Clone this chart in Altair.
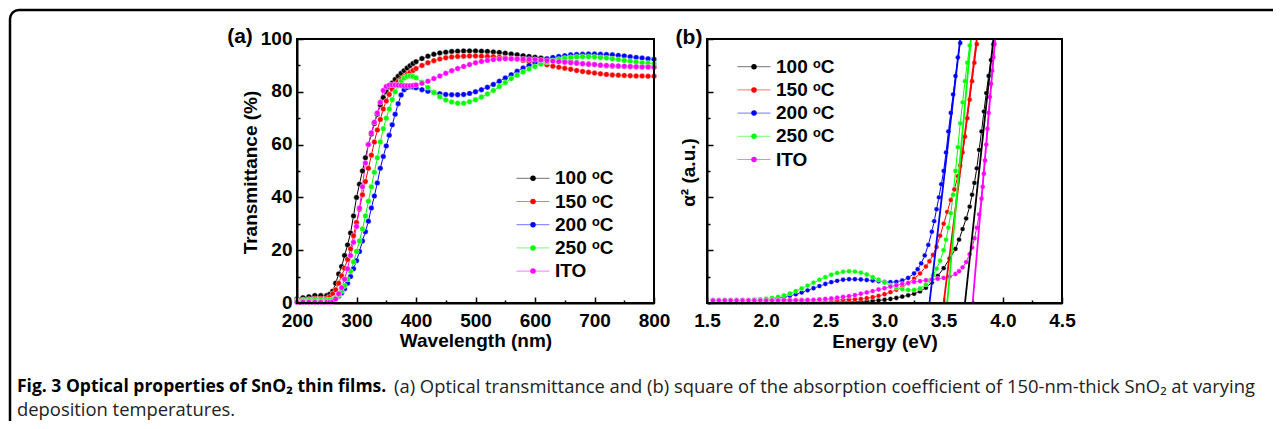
import altair as alt
import pandas as pd

SERIES = ["100 ᵒC", "150 ᵒC", "200 ᵒC", "250 ᵒC", "ITO"]
COLORS = ["#000000", "#ff0000", "#0000ff", "#00ff00", "#ff00ff"]

# ---------------- panel (a): transmittance ----------------
WL = [200, 210, 220, 230, 240, 250,
      255, 260, 265, 270, 275, 280, 285, 290, 295, 300,
      305, 310, 315, 320, 325, 330, 335, 340, 345, 350,
      355, 360, 365, 370, 375, 380, 385, 390, 395, 400,
      410, 420, 430, 440, 450, 460, 470, 480, 490, 500,
      510, 520, 530, 540, 550, 560, 570, 580, 590, 600,
      610, 620, 630, 640, 650, 660, 670, 680, 690, 700,
      710, 720, 730, 740, 750, 760, 770, 780, 790, 800]

T_100 = [1.5, 2.0, 2.4, 2.8, 2.8, 2.8,
         3.3, 4.5, 7.5, 11.0, 13.8, 18.0, 22.0, 26.5, 33.0, 40.0,
         45.0, 50.0, 55.0, 60.0, 64.0, 68.0, 71.5, 75.0, 77.8, 80.0,
         81.8, 83.3, 84.7, 85.9, 87.0, 88.0, 89.0, 89.9, 90.7, 91.4,
         92.6, 93.5, 94.2, 94.7, 95.0, 95.3, 95.4, 95.5, 95.5, 95.5,
         95.4, 95.3, 95.1, 94.9, 94.6, 94.3, 94.0, 93.7, 93.4, 93.1,
         92.8, 92.5, 92.2, 91.9, 91.6, 91.3, 91.0, 90.7, 90.5, 90.3,
         90.1, 89.9, 89.8, 89.7, 89.6, 89.5, 89.5, 89.4, 89.4, 89.4]

T_150 = [1.0, 1.2, 1.4, 1.6, 1.6, 1.7,
         2.2, 3.5, 5.0, 7.5, 10.3, 13.2, 16.5, 20.5, 25.5, 30.5,
         35.5, 41.0, 46.0, 51.0, 56.0, 61.0, 65.5, 69.5, 73.5, 76.5,
         79.0, 81.0, 82.6, 83.8, 84.8, 85.7, 86.6, 87.4, 88.1, 88.8,
         90.0, 91.0, 91.8, 92.4, 92.9, 93.2, 93.4, 93.5, 93.6, 93.6,
         93.5, 93.4, 93.3, 93.1, 92.9, 92.6, 92.3, 91.9, 91.5, 91.1,
         90.6, 90.2, 89.7, 89.3, 88.9, 88.5, 88.1, 87.7, 87.4, 87.1,
         86.8, 86.6, 86.4, 86.3, 86.2, 86.1, 86.0, 86.0, 85.9, 85.9]

T_200 = [0.8, 0.9, 1.0, 1.1, 1.1, 1.1,
         1.1, 1.3, 1.8, 2.6, 3.8, 5.4, 7.5, 10.0, 13.0, 16.0,
         19.5, 23.5, 27.0, 31.0, 36.0, 40.5, 45.5, 51.0, 55.5, 59.5,
         63.5, 67.5, 71.5, 75.5, 78.8, 80.8, 81.6, 81.9, 81.8, 81.5,
         80.8, 80.2, 79.7, 79.3, 79.0, 78.9, 78.9, 79.0, 79.4, 80.0,
         80.8, 81.7, 82.8, 84.0, 85.2, 86.5, 87.8, 89.0, 90.0, 91.0,
         91.8, 92.5, 93.0, 93.4, 93.7, 94.0, 94.1, 94.2, 94.3, 94.3,
         94.2, 94.1, 94.0, 93.8, 93.6, 93.3, 93.0, 92.8, 92.5, 92.3]

T_250 = [0.8, 0.9, 1.0, 1.0, 1.0, 1.0,
         1.1, 1.3, 2.0, 3.0, 4.5, 6.5, 9.0, 12.0, 15.5, 19.5,
         23.5, 28.0, 33.0, 38.5, 44.0, 49.5, 55.0, 61.0, 66.0, 70.0,
         73.5, 77.0, 80.0, 82.3, 84.0, 85.2, 85.8, 86.0, 85.8, 85.3,
         83.6, 81.6, 79.7, 78.1, 76.9, 76.1, 75.7, 75.7, 76.2, 77.0,
         78.0, 79.2, 80.5, 82.0, 83.5, 85.0, 86.3, 87.5, 88.6, 89.6,
         90.5, 91.2, 91.8, 92.3, 92.7, 93.0, 93.2, 93.3, 93.3, 93.2,
         93.0, 92.8, 92.5, 92.2, 91.9, 91.6, 91.3, 91.0, 90.8, 90.6]

T_ITO = [0.3, 0.3, 0.3, 0.3, 0.3, 0.3,
         0.3, 0.5, 1.5, 3.5, 5.8, 9.0, 13.0, 18.0, 23.0, 29.0,
         36.0, 44.0, 53.0, 60.0, 64.5, 68.5, 72.0, 76.0, 80.5, 82.0,
         82.5, 82.6, 82.6, 82.5, 82.4, 82.3, 82.3, 82.3, 82.4, 82.6,
         83.2, 84.0, 85.0, 86.0, 87.0, 88.0, 88.8, 89.6, 90.3, 91.0,
         91.5, 91.9, 92.2, 92.4, 92.5, 92.5, 92.5, 92.4, 92.3, 92.2,
         92.0, 91.8, 91.6, 91.4, 91.2, 91.0, 90.8, 90.6, 90.4, 90.3,
         90.1, 90.0, 89.9, 89.8, 89.7, 89.6, 89.5, 89.4, 89.4, 89.3]

# ---------------- panel (b): alpha^2 vs energy ----------------
E_LOW = [1.55, 1.60, 1.65, 1.70, 1.75, 1.80, 1.85, 1.90, 1.95, 2.00,
         2.05, 2.10, 2.15, 2.20, 2.25, 2.30, 2.35, 2.40, 2.45, 2.50,
         2.55, 2.60, 2.65, 2.70, 2.75, 2.80, 2.85, 2.90, 2.95, 3.00]

E_100 = [3.05, 3.10, 3.15, 3.20, 3.25, 3.30, 3.35, 3.40, 3.45, 3.50, 3.55, 3.60,
         3.63, 3.66, 3.69, 3.72, 3.74, 3.76, 3.78, 3.80, 3.82, 3.84, 3.86, 3.88, 3.90, 3.92]
A_100 = [0.03, 0.03, 0.03, 0.03, 0.03, 0.03, 0.03, 0.03, 0.03, 0.03,
         0.03, 0.03, 0.03, 0.03, 0.03, 0.03, 0.03, 0.03, 0.03, 0.03,
         0.03, 0.04, 0.04, 0.05, 0.05, 0.06, 0.07, 0.08, 0.10, 0.12,
         0.15, 0.19, 0.24, 0.29, 0.35, 0.44, 0.58, 0.78, 1.02, 1.32, 1.68, 2.05,
         2.40, 2.80, 3.20, 3.65, 4.10, 4.55, 5.10, 5.80, 6.50, 7.25, 7.95, 8.60, 9.20, 9.80]

E_150 = [3.05, 3.10, 3.15, 3.20, 3.25, 3.30, 3.35, 3.38, 3.41, 3.44, 3.47, 3.50,
         3.53, 3.56, 3.59, 3.62, 3.64, 3.66, 3.68, 3.70, 3.72, 3.74, 3.76, 3.78]
A_150 = [0.12, 0.12, 0.12, 0.12, 0.12, 0.12, 0.12, 0.12, 0.12, 0.12,
         0.12, 0.12, 0.12, 0.12, 0.12, 0.12, 0.12, 0.12, 0.12, 0.12,
         0.12, 0.12, 0.12, 0.13, 0.14, 0.15, 0.18, 0.22, 0.27, 0.33,
         0.41, 0.50, 0.61, 0.75, 0.92, 1.12, 1.38, 1.58, 1.82, 2.12, 2.55, 3.00,
         3.45, 3.90, 4.30, 4.80, 5.20, 5.70, 6.30, 7.00, 7.70, 8.40, 9.10, 9.80]

E_200 = [3.05, 3.10, 3.15, 3.20, 3.25, 3.28, 3.31, 3.34, 3.37, 3.40, 3.42,
         3.44, 3.46, 3.48, 3.50, 3.52, 3.54, 3.56, 3.58, 3.60, 3.62, 3.64]
A_200 = [0.10, 0.10, 0.10, 0.10, 0.10, 0.10, 0.10, 0.10, 0.11, 0.13,
         0.15, 0.18, 0.22, 0.27, 0.33, 0.40, 0.48, 0.56, 0.64, 0.72,
         0.79, 0.84, 0.88, 0.90, 0.90, 0.89, 0.87, 0.85, 0.82, 0.80,
         0.79, 0.80, 0.85, 0.95, 1.12, 1.28, 1.50, 1.80, 2.20, 2.70, 3.10,
         3.55, 4.00, 4.50, 5.00, 5.70, 6.50, 7.20, 7.90, 8.60, 9.30, 9.85]

E_250 = [3.05, 3.10, 3.15, 3.20, 3.25, 3.30, 3.35, 3.38, 3.41, 3.44, 3.47, 3.50,
         3.52, 3.54, 3.56, 3.58, 3.60, 3.62, 3.64, 3.66, 3.68, 3.70, 3.72]
A_250 = [0.12, 0.12, 0.12, 0.12, 0.12, 0.12, 0.12, 0.13, 0.14, 0.16,
         0.19, 0.23, 0.29, 0.36, 0.45, 0.55, 0.66, 0.77, 0.88, 0.98,
         1.07, 1.14, 1.18, 1.20, 1.19, 1.15, 1.08, 0.98, 0.88, 0.77,
         0.67, 0.58, 0.52, 0.49, 0.49, 0.55, 0.70, 0.85, 1.05, 1.30, 1.60, 2.00,
         2.40, 2.85, 3.40, 4.10, 5.00, 5.90, 6.80, 7.60, 8.40, 9.10, 9.75]

E_ITO = [3.05, 3.10, 3.15, 3.20, 3.25, 3.30, 3.35, 3.40, 3.45, 3.50, 3.55, 3.60,
         3.63, 3.66, 3.69, 3.72, 3.74, 3.76, 3.78, 3.80, 3.82,
         3.83, 3.84, 3.85, 3.86, 3.87, 3.88, 3.89, 3.90, 3.91, 3.92, 3.93]
A_ITO = [0.10, 0.10, 0.10, 0.10, 0.10, 0.10, 0.10, 0.10, 0.10, 0.10,
         0.10, 0.10, 0.10, 0.10, 0.10, 0.10, 0.11, 0.12, 0.13, 0.15,
         0.17, 0.20, 0.23, 0.26, 0.30, 0.35, 0.40, 0.45, 0.51, 0.56,
         0.62, 0.67, 0.72, 0.76, 0.80, 0.83, 0.86, 0.89, 0.92, 0.95, 1.00, 1.10,
         1.20, 1.35, 1.55, 1.85, 2.10, 2.45, 2.85, 3.35, 3.95,
         4.40, 4.90, 5.40, 6.00, 6.60, 7.20, 7.80, 8.30, 8.80, 9.30, 9.80]

# linear band-gap fits: energy at alpha^2 = 0 and at top of the frame
FIT_E0 = [3.68, 3.50, 3.38, 3.53, 3.745]
FIT_E1 = [3.92, 3.78, 3.64, 3.73, 3.935]
FIT_A0 = [0, 0, 0, 0, 0]
FIT_A1 = [10, 10, 10, 10, 10]

# ---------------- tables ----------------
rows_a = []
for name, ys in zip(SERIES, [T_100, T_150, T_200, T_250, T_ITO]):
    for w, t in zip(WL, ys):
        rows_a.append({"series": name, "wl": w, "T": t})
df_a = pd.DataFrame(rows_a)

rows_b = []
for name, eh, ys in zip(SERIES, [E_100, E_150, E_200, E_250, E_ITO],
                        [A_100, A_150, A_200, A_250, A_ITO]):
    for e, a in zip(E_LOW + eh, ys):
        rows_b.append({"series": name, "E": e, "A": a})
df_b = pd.DataFrame(rows_b)

df_fit = pd.DataFrame({"series": SERIES, "e0": FIT_E0, "e1": FIT_E1,
                       "a0": FIT_A0, "a1": FIT_A1})
df_leg = pd.DataFrame({"series": SERIES, "row": list(range(len(SERIES)))})

# ---------------- styling ----------------
FONT = "Liberation Sans"

AX = dict(domainColor="black", domainWidth=2, tickColor="black", tickWidth=1.5,
          labelFont=FONT, labelFontSize=19, labelFontWeight="bold", labelColor="black",
          titleFont=FONT, titleFontSize=19, titleFontWeight="bold", titleColor="black",
          grid=False, labelOverlap=False, labelFlush=False)

xA = alt.Scale(domain=[200, 800], range=[289, 646], nice=False, zero=False)
yA = alt.Scale(domain=[0, 100], range=[295, 31], nice=False, zero=False)
xB = alt.Scale(domain=[1.5, 4.5], range=[699, 1054], nice=False, zero=False)
yB = alt.Scale(domain=[0, 10], range=[295, 31], nice=False, zero=False)
cS = alt.Scale(domain=SERIES, range=COLORS)

axA_x = alt.Axis(orient="bottom", offset=-118, values=list(range(200, 801, 50)), format="d",
                 labelExpr="datum.value % 100 === 0 ? datum.label : ''",
                 tickSize=alt.ExprRef(expr="datum.value % 100 === 0 ? -6 : -3"),
                 labelPadding=14, title="Wavelength (nm)", titleX=467.5, titleY=37,
                 titleAlign="center", titleBaseline="middle", **AX)
axA_y = alt.Axis(orient="left", offset=-289, values=list(range(0, 101, 10)), format="d",
                 labelExpr="datum.value % 20 === 0 ? datum.label : ''",
                 tickSize=alt.ExprRef(expr="datum.value % 20 === 0 ? -6 : -3"),
                 labelPadding=11, labelOffset=-1, title="Transmittance (%)", titleX=-47, titleY=164,
                 titleAngle=270, titleAlign="center", titleBaseline="middle", **AX)
axB_x = alt.Axis(orient="bottom", offset=-118,
                 values=[1.5, 1.75, 2.0, 2.25, 2.5, 2.75, 3.0, 3.25, 3.5, 3.75, 4.0, 4.25, 4.5],
                 format=".1f",
                 labelExpr="abs(datum.value * 2 - round(datum.value * 2)) < 0.001 ? datum.label : ''",
                 tickSize=alt.ExprRef(expr="abs(datum.value * 2 - round(datum.value * 2)) < 0.001 ? -6 : -3"),
                 labelPadding=14, title="Energy (eV)", titleX=876.5, titleY=38,
                 titleAlign="center", titleBaseline="middle", **AX)
axB_y = alt.Axis(orient="left", offset=-699, values=list(range(0, 11)), labels=False,
                 tickSize=alt.ExprRef(expr="datum.value % 2 === 0 ? -6 : -3"),
                 title="α² (a.u.)", titleX=-19, titleY=164,
                 titleAngle=270, titleAlign="center", titleBaseline="middle", **AX)


def legend_block(x_mid, y_first, y_last):
    """Legend drawn from the series table: line sample, dot and label per row."""
    ys = alt.Scale(domain=[0, len(SERIES) - 1], range=[y_first, y_last], nice=False, zero=False)
    y = alt.Y("row:Q", scale=ys, axis=None)
    c = alt.Color("series:N", scale=cS, legend=None)
    base = alt.Chart(df_leg)
    line = base.mark_rule(strokeWidth=1, opacity=0.55).encode(
        x=alt.value(x_mid - 16.5), x2=alt.value(x_mid + 16.5), y=y, color=c)
    dot = base.mark_point(filled=True, size=30, opacity=1).encode(
        x=alt.value(x_mid), y=y, color=c)
    txt = base.mark_text(align="left", baseline="middle", font=FONT, fontSize=19,
                         fontWeight="bold", color="black").encode(
        x=alt.value(x_mid + 22), y=y, text="series:N")
    return alt.layer(line, dot, txt)


# ---------------- panel (a) ----------------
lines_a = alt.Chart(df_a).mark_line(strokeWidth=1).encode(
    x=alt.X("wl:Q", scale=xA, axis=axA_x),
    y=alt.Y("T:Q", scale=yA, axis=axA_y),
    color=alt.Color("series:N", scale=cS, legend=None),
)
points_a = alt.Chart(df_a).mark_point(filled=True, size=30, opacity=1,
                                      stroke="white", strokeWidth=0.4).encode(
    x=alt.X("wl:Q", scale=xA, axis=axA_x),
    y=alt.Y("T:Q", scale=yA, axis=axA_y),
    fill=alt.Fill("series:N", scale=cS, legend=None),
)
frame_a = alt.Chart(pd.DataFrame({"k": [0]})).mark_rect(
    fillOpacity=0, stroke="black", strokeWidth=2).encode(
    x=alt.XDatum(200, type="quantitative", scale=xA, axis=axA_x),
    x2=alt.X2Datum(800),
    y=alt.YDatum(0, type="quantitative", scale=yA, axis=axA_y),
    y2=alt.Y2Datum(100),
)
panel_a = alt.layer(lines_a, points_a, frame_a)

# ---------------- panel (b) ----------------
lines_b = alt.Chart(df_b).mark_line(strokeWidth=1).encode(
    x=alt.X("E:Q", scale=xB, axis=axB_x),
    y=alt.Y("A:Q", scale=yB, axis=axB_y),
    color=alt.Color("series:N", scale=cS, legend=None),
)
points_b = alt.Chart(df_b).mark_point(filled=True, size=24, opacity=1,
                                      stroke="white", strokeWidth=0.4).encode(
    x=alt.X("E:Q", scale=xB, axis=axB_x),
    y=alt.Y("A:Q", scale=yB, axis=axB_y),
    fill=alt.Fill("series:N", scale=cS, legend=None),
)
fits_b = alt.Chart(df_fit).mark_rule(strokeWidth=1.8).encode(
    x=alt.X("e0:Q", scale=xB, axis=axB_x),
    x2="e1:Q",
    y=alt.Y("a0:Q", scale=yB, axis=axB_y),
    y2="a1:Q",
    color=alt.Color("series:N", scale=cS, legend=None),
)
frame_b = alt.Chart(pd.DataFrame({"k": [0]})).mark_rect(
    fillOpacity=0, stroke="black", strokeWidth=2).encode(
    x=alt.XDatum(1.5, type="quantitative", scale=xB, axis=axB_x),
    x2=alt.X2Datum(4.5),
    y=alt.YDatum(0, type="quantitative", scale=yB, axis=axB_y),
    y2=alt.Y2Datum(10),
)
panel_b = alt.layer(lines_b, points_b, fits_b, frame_b)

leg_a = legend_block(525, 170.3, 263.1)
leg_b = legend_block(746, 58.7, 151.5)

# ---------------- texts & border ----------------
one = pd.DataFrame({"k": [0]})
border = alt.Chart(one).mark_rect(cornerRadius=9, fillOpacity=0, stroke="black",
                                  strokeWidth=2.5).encode(
    x=alt.value(2), x2=alt.value(1600), y=alt.value(2), y2=alt.value(800))
lab_a = alt.Chart(one).mark_text(text="(a)", font=FONT, fontSize=21, fontWeight="bold",
                                 color="black", align="center", baseline="middle").encode(
    x=alt.value(232), y=alt.value(29))
lab_b = alt.Chart(one).mark_text(text="(b)", font=FONT, fontSize=21, fontWeight="bold",
                                 color="black", align="center", baseline="middle").encode(
    x=alt.value(681), y=alt.value(30))
cap_bold = alt.Chart(one).mark_text(
    text="Fig. 3 Optical properties of SnO₂ thin films.", font="Open Sans", fontSize=17.5,
    fontWeight="bold", color="black", align="left", baseline="middle").encode(
    x=alt.value(9), y=alt.value(379))
cap_reg = alt.Chart(one).mark_text(
    text="(a) Optical transmittance and (b) square of the absorption coefficient of "
         "150-nm-thick SnO₂ at varying",
    font="Open Sans", fontSize=18.4, color="#222222", align="left", baseline="middle").encode(
    x=alt.value(386), y=alt.value(379))
cap_reg2 = alt.Chart(one).mark_text(
    text="deposition temperatures.", font="Open Sans", fontSize=18.4, color="#222222",
    align="left", baseline="middle").encode(x=alt.value(9), y=alt.value(402))

chart = alt.layer(border, panel_a, panel_b, leg_a, leg_b, lab_a, lab_b,
                  cap_bold, cap_reg, cap_reg2).resolve_scale(
    x="independent", y="independent"
).resolve_axis(x="independent", y="independent").properties(
    width=1265, height=413, padding=0, autosize=alt.AutoSizeParams(type="none")
).configure_view(stroke="transparent")

chart.save("out.html", embed_options={"renderer": "svg", "actions": False})
